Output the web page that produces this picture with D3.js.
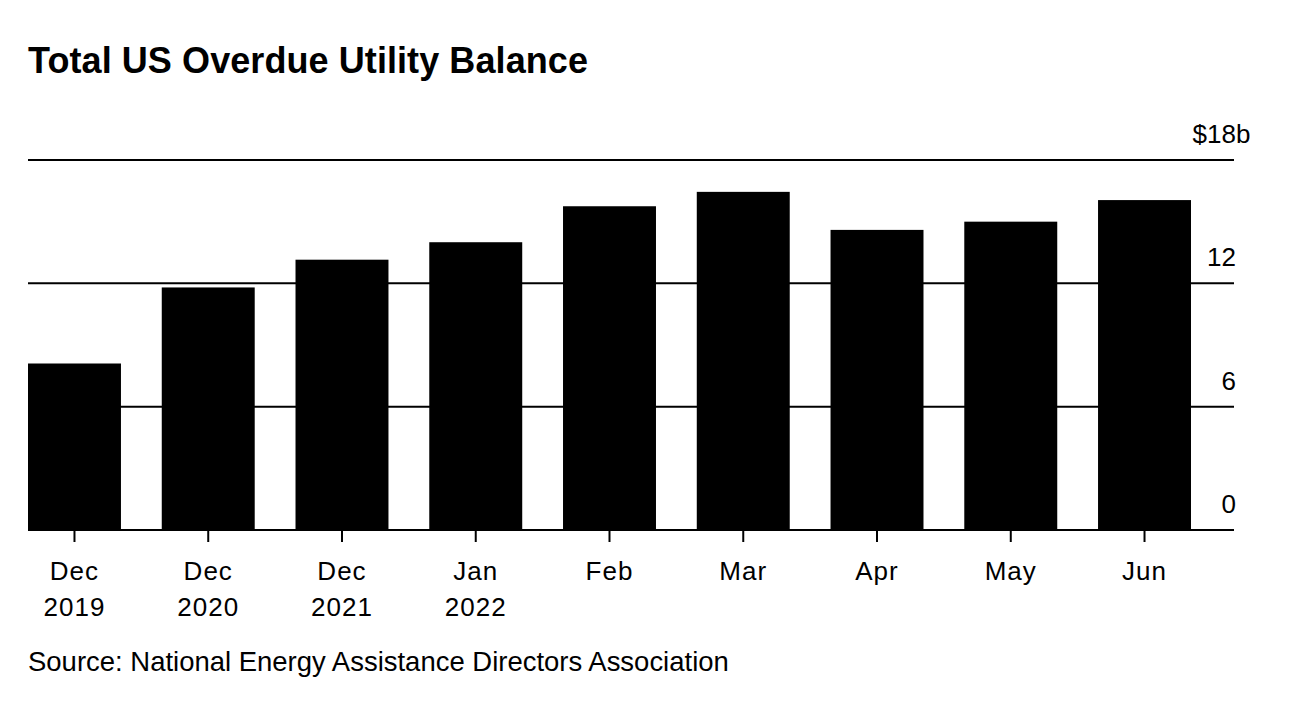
<!DOCTYPE html>
<html>
<head>
<meta charset="utf-8">
<script src="https://cdn.jsdelivr.net/npm/d3@7"></script>
<style>
  html, body { margin: 0; padding: 0; background: #fff; }
  svg { display: block; }
  text { font-family: "Liberation Sans", Arial, Helvetica, sans-serif; fill: #000; }
</style>
</head>
<body>
<svg id="chart" width="1296" height="702"></svg>
<script>
const categories = [["Dec","2019"],["Dec","2020"],["Dec","2021"],["Jan","2022"],["Feb"],["Mar"],["Apr"],["May"],["Jun"]];
const values = [8.1, 11.8, 13.15, 14.0, 15.75, 16.45, 14.6, 15.0, 16.05];
const yTicks = [0, 6, 12, 18];
const titleText = "Total US Overdue Utility Balance";
const sourceText = "Source: National Energy Assistance Directors Association";

const svg = d3.select("#chart");
const left = 28, right = 1234, barRight = 1191;
const y0 = 530, yTop = 160;

const keys = categories.map((c, i) => i);
const x = d3.scaleBand().domain(keys).range([left, barRight]).paddingInner(0.305).paddingOuter(0);
const y = d3.scaleLinear().domain([0, 18]).range([y0, yTop]);

function fitSpacing(sel, target) {
  const node = sel.node();
  const n = node.textContent.length;
  const w = node.getComputedTextLength();
  sel.attr("letter-spacing", ((target - w) / n).toFixed(3));
}
function fitSize(sel, target) {
  const node = sel.node();
  const fs = +sel.attr("font-size");
  const w = node.getComputedTextLength();
  sel.attr("font-size", (fs * target / w).toFixed(2));
}

// Title
const title = svg.append("text").attr("x", left).attr("y", 73)
  .attr("font-size", 36).attr("font-weight", "bold").text(titleText);
fitSpacing(title, 560);

// Gridlines (non-zero)
const grid = svg.append("g");
grid.selectAll("line").data(yTicks.filter(d => d !== 0)).join("line")
  .attr("x1", left).attr("x2", right)
  .attr("y1", d => y(d)).attr("y2", d => y(d))
  .attr("stroke", "#000").attr("stroke-width", 2);

// Bars
svg.append("g").selectAll("rect").data(values).join("rect")
  .attr("x", (d, i) => x(i)).attr("width", x.bandwidth())
  .attr("y", d => y(d)).attr("height", d => y(0) - y(d))
  .attr("fill", "#000");

// Baseline
svg.append("line").attr("x1", left).attr("x2", right)
  .attr("y1", y(0)).attr("y2", y(0)).attr("stroke", "#000").attr("stroke-width", 2);

// Y labels
const yl = svg.append("g");
yTicks.forEach(t => {
  yl.append("text").attr("x", 1236).attr("y", y(t) - 17)
    .attr("font-size", 26).attr("text-anchor", "end").text(t === 18 ? "$" + t : String(t));
  if (t === 18) {
    yl.append("text").attr("x", 1236).attr("y", y(t) - 17).attr("font-size", 26).text("b");
  }
});

// X axis ticks
const xAxis = d3.axisBottom(x).tickSize(12).tickFormat("");
const gx = svg.append("g").attr("transform", `translate(0,${y0})`).call(xAxis);
gx.select(".domain").remove();
gx.selectAll(".tick line").attr("stroke", "#000").attr("stroke-width", 2);

// X labels
const xl = svg.append("g");
categories.forEach((c, i) => {
  c.forEach((line, j) => {
    xl.append("text").attr("x", x(i) + x.bandwidth() / 2).attr("y", 580 + j * 36)
      .attr("font-size", 26).attr("letter-spacing", 1).attr("text-anchor", "middle").text(line);
  });
});

// Source
const src = svg.append("text").attr("x", left).attr("y", 671).attr("font-size", 24).text(sourceText);
fitSize(src, 701);
</script>
</body>
</html>
